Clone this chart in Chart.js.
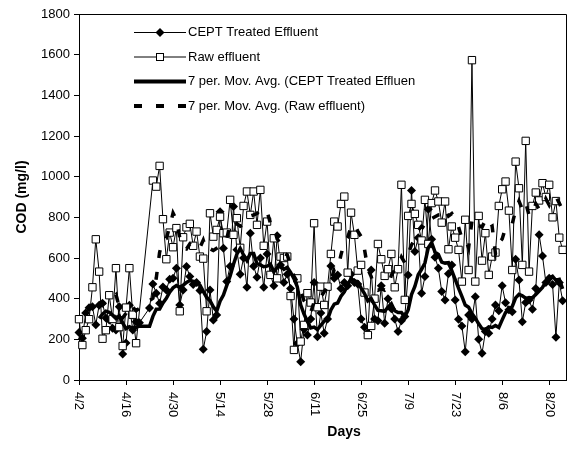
<!DOCTYPE html>
<html>
<head>
<meta charset="utf-8">
<script src="https://cdn.jsdelivr.net/npm/chart.js@4"></script>
<style>
  html, body { margin: 0; padding: 0; background: #fff; }
  #wrap { width: 574px; height: 471px; }
</style>
</head>
<body>
<div id="wrap"><canvas id="chart" width="574" height="471"></canvas></div>
<script>
// Daily COD samples (mg/l), one entry per day starting 4/2; null = no sample that day
const tickLabels = ['4/2', '4/16', '4/30', '5/14', '5/28', '6/11', '6/25', '7/9', '7/23', '8/6', '8/20'];
const tickStepDays = 14;
const lastDay = 145;

const treated = [
  233, 205, 330, 355, 360, 272, 368, 378, 305, 295,
  255, 246, 360, 128, 182, 368, 246, 287, 282, null,
  null, 354, 472, 427, 377, 457, 443, 496, 500, 550,
  369, 443, 558, 509, 470, 480, 440, 151, 238, 443,
  295, 320, 828, 648, 484, 560, 853, 640, 520, 600,
  456, 722, 560, 505, 600, 456, 620, 520, 463, 709,
  566, 480, 520, 450, 300, 180, 90, 250, 221, 300,
  479, 213, 330, 230, 300, 561, 500, 517, 450, 480,
  463, 520, 480, 472, 300, 260, 230, 541, 300, 292,
  463, 279, 400, 350, 300, 238, 292, 312, 517, 932,
  632, 700, 427, 509, 840, 692, 604, 550, 435, 394,
  522, 566, 394, 299, 266, 139, 320, 300, 410, 200,
  131, 238, 230, 300, 369, 340, 463, 380, 345, 336,
  594, 492, 287, 381, 394, 348, 450, 714, 610, 480,
  500, 470, 210, 480, 390
];

const raw = [
  299, 172, 245, 299, 456, 692, 533, 203, 245, 417,
  300, 550, 260, 167, 356, 550, 321, 181, null, null,
  null, null, 981, 951, 1053, 791, 594, 725, 653, 747,
  338, 702, 751, 768, 660, 730, 607, 597, 338, 820,
  705, 738, 803, 722, 725, 886, 714, 796, 650, 856,
  927, 812, 927, 763, 935, 660, 779, 517, 697, 500,
  607, 600, 607, 413, 148, 500, 189, 271, 427, 381,
  771, 358, 459, 369, 459, 620, 779, 755, 866, 902,
  528, 823, 714, 538, 566, 430, 221, 266, 400, 669,
  594, 512, 545, 620, 456, 545, 960, 394, 807, 866,
  817, 763, 686, 886, 669, 870, 932, 878, 774, 878,
  643, 755, 700, 640, 484, 788, 541, 1573, 484, 807,
  587, 722, 517, 607, 627, 856, 938, 976, 833, 541,
  1074, 943, 566, 1176, 533, 856, 922, 883, 968, 900,
  960, 800, 880, 700, 640
];

const legendLabels = [
  'CEPT Treated Effluent',
  'Raw effluent',
  '7 per. Mov. Avg. (CEPT Treated Effluent)',
  '7 per. Mov. Avg. (Raw effluent)'
];

const FONT = "'Liberation Sans', Arial, sans-serif";

// Samples as {x: day, y: value}, skipping days without a sample
function toPoints(values) {
  const pts = [];
  values.forEach((v, i) => { if (v !== null) pts.push({ x: i, y: v }); });
  return pts;
}

// 7-period moving-average trendline over the available samples
function movingAverage(values, period) {
  const out = [];
  const win = [];
  values.forEach((v, i) => {
    if (v === null) return;
    win.push(v);
    if (win.length > period) win.shift();
    if (win.length === period) {
      out.push({ x: i, y: win.reduce((a, b) => a + b, 0) / period });
    }
  });
  return out;
}

const overlay = {
  id: 'overlay',
  afterDraw(chart) {
    const ctx = chart.ctx;
    const area = chart.chartArea;
    const xs = chart.scales.x;
    ctx.save();

    // plot-area frame (top and right edges)
    ctx.strokeStyle = '#000';
    ctx.lineWidth = 1;
    ctx.beginPath();
    ctx.moveTo(area.left, area.top + 0.5);
    ctx.lineTo(area.right + 0.5, area.top + 0.5);
    ctx.lineTo(area.right + 0.5, area.bottom);
    ctx.stroke();

    // date labels, turned to read downward
    ctx.fillStyle = '#000';
    ctx.font = '13px ' + FONT;
    ctx.textAlign = 'left';
    ctx.textBaseline = 'middle';
    tickLabels.forEach((lab, i) => {
      const px = xs.getPixelForValue(i * tickStepDays);
      ctx.save();
      ctx.translate(px, area.bottom + 12);
      ctx.rotate(Math.PI / 2);
      ctx.fillText(lab, 0, 0);
      ctx.restore();
    });

    // axis titles
    ctx.font = 'bold 14px ' + FONT;
    ctx.textAlign = 'center';
    ctx.textBaseline = 'middle';
    ctx.fillText('Days', 344, 432);
    ctx.save();
    ctx.translate(22, (area.top + area.bottom) / 2);
    ctx.rotate(-Math.PI / 2);
    ctx.fillText('COD (mg/l)', 0, 0);
    ctx.restore();

    // legend
    const lx1 = 134, lx2 = 186, tx = 187;
    const rowY = [32.5, 57, 81.5, 106];
    ctx.font = '13px ' + FONT;
    ctx.textAlign = 'left';
    ctx.textBaseline = 'middle';
    rowY.forEach((y, i) => {
      ctx.save();
      ctx.strokeStyle = '#000';
      ctx.lineCap = 'butt';
      if (i === 0 || i === 1) {
        ctx.lineWidth = 1;
        ctx.beginPath(); ctx.moveTo(lx1, y); ctx.lineTo(lx2, y); ctx.stroke();
        const mx = (lx1 + lx2) / 2;
        if (i === 0) {
          ctx.fillStyle = '#000';
          ctx.beginPath();
          ctx.moveTo(mx, y - 4.5); ctx.lineTo(mx + 4.5, y);
          ctx.lineTo(mx, y + 4.5); ctx.lineTo(mx - 4.5, y);
          ctx.closePath(); ctx.fill();
        } else {
          ctx.fillStyle = '#fff';
          ctx.fillRect(mx - 3.5, y - 3.5, 7, 7);
          ctx.strokeRect(mx - 3.5, y - 3.5, 7, 7);
        }
      } else {
        ctx.lineWidth = 4;
        if (i === 3) ctx.setLineDash([8, 14]);
        ctx.beginPath(); ctx.moveTo(lx1, y); ctx.lineTo(lx2, y); ctx.stroke();
      }
      ctx.restore();
      ctx.save();
      ctx.beginPath();
      ctx.rect(tx, y - 10, 415 - tx, 20);
      ctx.clip();
      ctx.fillStyle = '#000';
      ctx.fillText(legendLabels[i], tx + 1, y);
      ctx.restore();
    });

    ctx.restore();
  }
};

Chart.defaults.font.family = FONT;
Chart.defaults.font.size = 12;
Chart.defaults.color = '#000';

new Chart(document.getElementById('chart'), {
  type: 'line',
  data: {
    datasets: [
      {
        label: legendLabels[0],
        data: toPoints(treated),
        borderColor: '#000',
        borderWidth: 1,
        pointStyle: 'rectRot',
        pointRadius: 4.5,
        pointBackgroundColor: '#000',
        pointBorderColor: '#000',
        pointBorderWidth: 0,
        tension: 0,
        clip: false,
        order: 3
      },
      {
        label: legendLabels[1],
        data: toPoints(raw),
        borderColor: '#000',
        borderWidth: 1,
        pointStyle: 'rect',
        pointRadius: 5.2,
        pointBackgroundColor: '#fff',
        pointBorderColor: '#000',
        pointBorderWidth: 1,
        tension: 0,
        clip: false,
        order: 2
      },
      {
        label: legendLabels[2],
        data: movingAverage(treated, 7),
        borderColor: '#000',
        borderWidth: 3.5,
        pointRadius: 0,
        tension: 0,
        order: 1
      },
      {
        label: legendLabels[3],
        data: movingAverage(raw, 7),
        borderColor: '#000',
        borderWidth: 3.5,
        borderDash: [8, 14],
        borderCapStyle: 'butt',
        pointRadius: 0,
        tension: 0,
        order: 0
      }
    ]
  },
  options: {
    responsive: false,
    animation: false,
    devicePixelRatio: 1,
    layout: { padding: { top: 14, right: 8, bottom: 86, left: 0 } },
    plugins: { legend: { display: false }, tooltip: { enabled: false } },
    scales: {
      x: {
        type: 'linear',
        min: 0,
        max: lastDay,
        border: { display: true, color: '#000', width: 1 },
        grid: { display: true, drawOnChartArea: false, drawTicks: true, tickLength: 5, color: '#000' },
        ticks: { display: false, stepSize: tickStepDays },
        afterBuildTicks: s => { s.ticks = tickLabels.map((_, i) => ({ value: i * tickStepDays })); },
        afterFit: s => { s.height = 5; }
      },
      y: {
        min: 0,
        max: 1800,
        border: { display: true, color: '#000', width: 1 },
        grid: { display: true, drawOnChartArea: false, drawTicks: true, tickLength: 5, color: '#000' },
        ticks: { stepSize: 200, padding: 4, color: '#000', font: { size: 13 }, callback: v => String(v) },
        afterFit: s => { s.width = 79; }
      }
    }
  },
  plugins: [overlay]
});
</script>
</body>
</html>
